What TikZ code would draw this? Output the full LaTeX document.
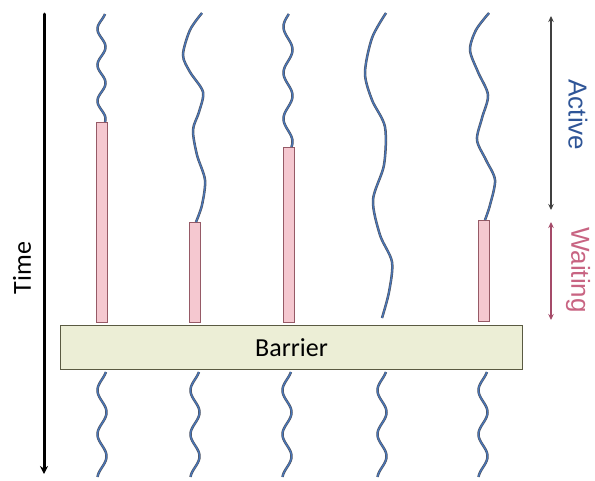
\documentclass[tikz,border=0pt]{standalone}
\usepackage{fontspec}
\setmainfont{Carlito}
\newfontfamily\arialf{Liberation Sans}
\usetikzlibrary{arrows.meta}
\definecolor{threadblue}{RGB}{72,118,185}
\definecolor{threadgray}{RGB}{80,84,96}
\definecolor{waitfill}{RGB}{245,200,208}
\definecolor{waitdraw}{RGB}{150,90,102}
\definecolor{barfill}{RGB}{236,238,214}
\definecolor{bardraw}{RGB}{90,90,66}
\definecolor{activeblue}{RGB}{47,85,151}
\definecolor{waitpink}{RGB}{200,100,130}
\definecolor{waitarrow}{RGB}{165,75,105}
\tikzset{
  thread/.style={draw=threadgray, line width=0.6pt, double=threadblue, double distance=1.3pt},
  waitbox/.style={draw=waitdraw, fill=waitfill, line width=1pt, minimum width=11pt, inner sep=0pt, anchor=south},
  barrierbox/.style={draw=bardraw, fill=barfill, line width=1.2pt, minimum width=462pt, minimum height=44pt, inner sep=0pt, font=\fontsize{26}{30}\selectfont},
  sidelabel/.style={font=\arialf\fontsize{26}{30}\selectfont, rotate=-90},
  spanarrow/.style={line width=2pt, {Stealth[length=6pt,width=5.5pt]}-{Stealth[length=6pt,width=5.5pt]}}
}
\begin{document}
\begin{tikzpicture}[x=1pt,y=-1pt]
\useasboundingbox (0,0) rectangle (595,480);
% time axis
\coordinate (t0) at (44,14);
\coordinate (t1) at (44,474);
\draw[line width=3pt, line cap=round, -{Stealth[length=8pt,width=8pt]}] (t0) -- (t1);
\node[rotate=90, font=\fontsize{26}{30}\selectfont] (time) at (22,268) {Time};
% waiting boxes
\node[waitbox, minimum height=200pt] (w1) at (101.5,323) {};
\node[waitbox, minimum height=100pt] (w2) at (195,323) {};
\node[waitbox, minimum height=175pt] (w3) at (288.5,323) {};
\node[waitbox, minimum height=101pt] (w5) at (483.5,322) {};
% barrier
\node[barrierbox] (bar) at (291.5,347.5) {Barrier};
% top threads
\draw[thread] plot[domain=14:122, samples=90, variable=\y] ({101.5+4*cos(10*(\y-14)+30)},\y);
\draw[thread] plot[smooth] coordinates {(202,13) (190,30) (183,55) (190,72) (203,92) (199,112) (193,130) (197,155) (205,180) (202,205) (196,222)};
\draw[thread] plot[domain=14:147, samples=90, variable=\y] ({288+4.5*cos(7.826*(\y-14)+80)},\y);
\draw[thread] plot[smooth] coordinates {(386,13) (372,38) (365,73) (372,100) (385,127) (384,165) (373,200) (380,235) (392,262) (389,292) (382,318)};
\draw[thread] plot[smooth] coordinates {(489,13) (476,30) (470,50) (478,72) (488,95) (482,118) (477,140) (486,160) (495,180) (490,205) (485,220)};
% bottom threads
\foreach \xo in {102,195,287,382,483}{
  \draw[thread] plot[domain=372:477, samples=90, variable=\y] ({\xo+4.5*cos(8.182*(\y-372)+30)},\y);
}
% side arrows
\coordinate (a0) at (551,16);
\coordinate (a1) at (551,210);
\coordinate (b0) at (551,222);
\coordinate (b1) at (551,320);
\draw[spanarrow, draw=black!75] (a0) -- (a1);
\draw[spanarrow, draw=waitarrow] (b0) -- (b1);
\node[sidelabel, text=activeblue] (act) at (578,115) {Active};
\node[sidelabel, text=waitpink] (wait) at (578,270) {Waiting};
\end{tikzpicture}
\end{document}
